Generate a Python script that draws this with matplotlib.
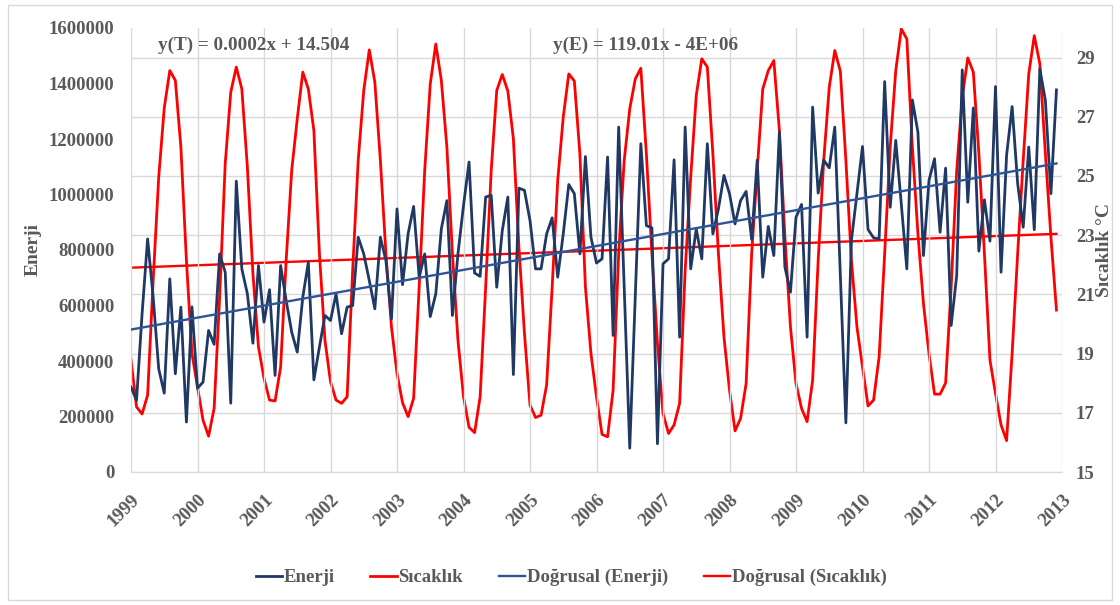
import numpy as np
import matplotlib.pyplot as plt
from matplotlib.patches import Rectangle

plt.rcParams['font.family'] = ['Liberation Serif', 'DejaVu Serif']
plt.rcParams['font.weight'] = 'bold'

# Monthly data, Jan 1999 - Dec 2012
years = list(range(1999, 2014))

enerji_k = [
    306, 258, 570, 840, 630, 372, 284, 696, 354, 594, 180, 595,
    302, 324, 510, 460, 786, 720, 248, 1048, 732, 642, 464, 744,
    540, 657, 348, 744, 618, 504, 432, 630, 756, 332, 450, 564,
    546, 642, 498, 594, 600, 846, 786, 690, 588, 846, 762, 552,
    948, 675, 858, 957, 702, 786, 560, 642, 876, 978, 564, 786,
    960, 1117, 717, 705, 991, 997, 666, 870, 991, 351, 1023, 1015,
    906, 732, 732, 858, 916, 702, 858, 1036, 1003, 786, 1137, 846,
    753, 768, 1135, 492, 1243, 666, 86, 630, 1183, 888, 880, 102,
    750, 768, 1125, 486, 1243, 732, 876, 768, 1183, 858, 948, 1069,
    1003, 894, 978, 1011, 838, 1124, 702, 885, 780, 1225, 738, 648,
    918, 964, 486, 1315, 1005, 1124, 1096, 1243, 714, 177, 834, 1003,
    1173, 874, 844, 840, 1407, 954, 1195, 966, 732, 1341, 1225, 780,
    1051, 1129, 864, 1095, 528, 708, 1449, 972, 1312, 796, 981, 832,
    1389, 720, 1141, 1317, 1039, 882, 1171, 873, 1453, 1339, 1003, 1377,
]

sicaklik = [
    18.80, 17.20, 16.96, 17.60, 21.48, 24.96, 27.30, 28.56, 28.23, 25.98, 22.15, 19.00,
    17.88, 16.75, 16.21, 17.15, 20.92, 25.41, 27.83, 28.68, 27.94, 25.30, 21.70, 19.23,
    18.16, 17.43, 17.40, 18.55, 22.15, 25.19, 26.93, 28.51, 27.94, 26.54, 22.38, 19.45,
    18.05, 17.43, 17.32, 17.54, 21.82, 25.53, 27.89, 29.26, 28.17, 25.53, 22.38, 19.90,
    18.33, 17.34, 16.87, 17.49, 21.25, 25.19, 28.11, 29.46, 28.23, 25.98, 22.38, 19.45,
    17.54, 16.51, 16.33, 17.54, 21.25, 25.19, 27.89, 28.43, 27.87, 26.26, 22.60, 19.68,
    17.26, 16.84, 16.92, 17.94, 21.25, 24.85, 26.99, 28.45, 28.21, 25.75, 21.25, 19.00,
    17.54, 16.27, 16.19, 17.77, 22.38, 25.53, 27.27, 28.28, 28.64, 25.75, 22.38, 19.34,
    16.98, 16.30, 16.59, 17.32, 21.82, 24.96, 27.72, 28.96, 28.68, 25.75, 22.38, 19.56,
    17.77, 16.39, 16.81, 17.99, 22.38, 25.19, 27.94, 28.56, 28.90, 26.54, 22.94, 19.90,
    17.99, 17.15, 16.70, 18.10, 22.15, 25.53, 28.00, 29.24, 28.54, 25.53, 22.15, 19.90,
    18.55, 17.23, 17.43, 18.89, 22.38, 25.98, 28.56, 29.97, 29.63, 25.98, 23.05, 20.69,
    19.00, 17.63, 17.63, 18.01, 21.25, 25.19, 27.66, 28.99, 28.51, 25.75, 22.38, 18.78,
    17.65, 16.59, 16.06, 19.00, 22.38, 25.53, 28.45, 29.74, 28.79, 25.75, 22.94, 20.47,
]

enerji = np.array(enerji_k) * 1000.0
sicaklik = np.array(sicaklik)
x = 1999 + np.arange(len(enerji)) / 12.0

gray = '#595959'
grid_c = '#D9D9D9'
navy = '#1F3864'
blue = '#2E5597'
red = '#FF0000'

fig = plt.figure(figsize=(11.2, 6.05), dpi=100)
ax = fig.add_axes([131/1120, 1-472/605, 931/1120, 444/605])
ax2 = ax.twinx()

# trend lines (least squares)
pe = np.polyfit(x, enerji, 1)
pt = np.polyfit(x, sicaklik, 1)
xt = np.array([x[0], x[-1]])

l1, = ax.plot(x, enerji, color=navy, lw=2.0, label='Enerji', zorder=3)
l3, = ax.plot(xt, np.polyval(pe, xt), color=blue, lw=1.7, label='Doğrusal (Enerji)', zorder=4)
l2, = ax2.plot(x, sicaklik, color=red, lw=2.0, label='Sıcaklık', zorder=3)
l4, = ax2.plot(xt, np.polyval(pt, xt), color=red, lw=1.7, label='Doğrusal (Sıcaklık)', zorder=4)

ax.set_xlim(1999, 2013)
ax.set_ylim(0, 1600000)
ax2.set_ylim(15, 30)
ax.set_xticks(years)
ax.set_xticklabels([str(y) for y in years], rotation=45, ha='right', va='top',
                   rotation_mode='anchor')
ax.set_yticks(np.arange(0, 1600001, 200000))
ax.set_yticklabels([str(v) for v in range(0, 1600001, 200000)])
ax2.set_yticks(np.arange(15, 30, 2))

# gridlines follow the secondary axis
ax.grid(axis='x', color=grid_c, lw=1.0)
for t in np.arange(15, 30, 2):
    ax2.axhline(t, color=grid_c, lw=1.0, zorder=0)
ax.set_zorder(ax2.get_zorder() + 1)
ax.patch.set_visible(False)

for a in (ax, ax2):
    for s in a.spines.values():
        s.set_visible(False)
    a.tick_params(length=0, colors=gray, labelsize=13.5)
ax.spines['bottom'].set_visible(True)
ax.spines['bottom'].set_color(grid_c)
ax.tick_params(axis='x', pad=14)
ax.tick_params(axis='y', pad=12)
ax2.tick_params(axis='y', pad=10)

ax.set_ylabel('Enerji', fontsize=14, color=gray, fontweight='bold')
ax.yaxis.set_label_coords(-0.096, 0.5)
ax2.set_ylabel('Sıcaklık °C', fontsize=14, color=gray, fontweight='bold')
ax2.yaxis.set_label_coords(1.037, 0.5)

ax.text(0.029, 0.962, 'y(T) = 0.0002x + 14.504', transform=ax.transAxes,
        fontsize=13.8, color=gray, ha='left', va='center')
ax.text(0.453, 0.962, 'y(E) = 119.01x - 4E+06', transform=ax.transAxes,
        fontsize=13.8, color=gray, ha='left', va='center')

fig.legend(handles=[l1, l2, l3, l4], loc='center', bbox_to_anchor=(0.51, 0.045),
           ncol=4, frameon=False, fontsize=13.5, labelcolor=gray,
           handlelength=1.4, handletextpad=0.1, columnspacing=1.9)

fig.patches.append(Rectangle((0.007, 0.008), 0.986, 0.983, transform=fig.transFigure,
                             fill=False, edgecolor=grid_c, lw=1.0))

fig.savefig('out.png', dpi=100)
